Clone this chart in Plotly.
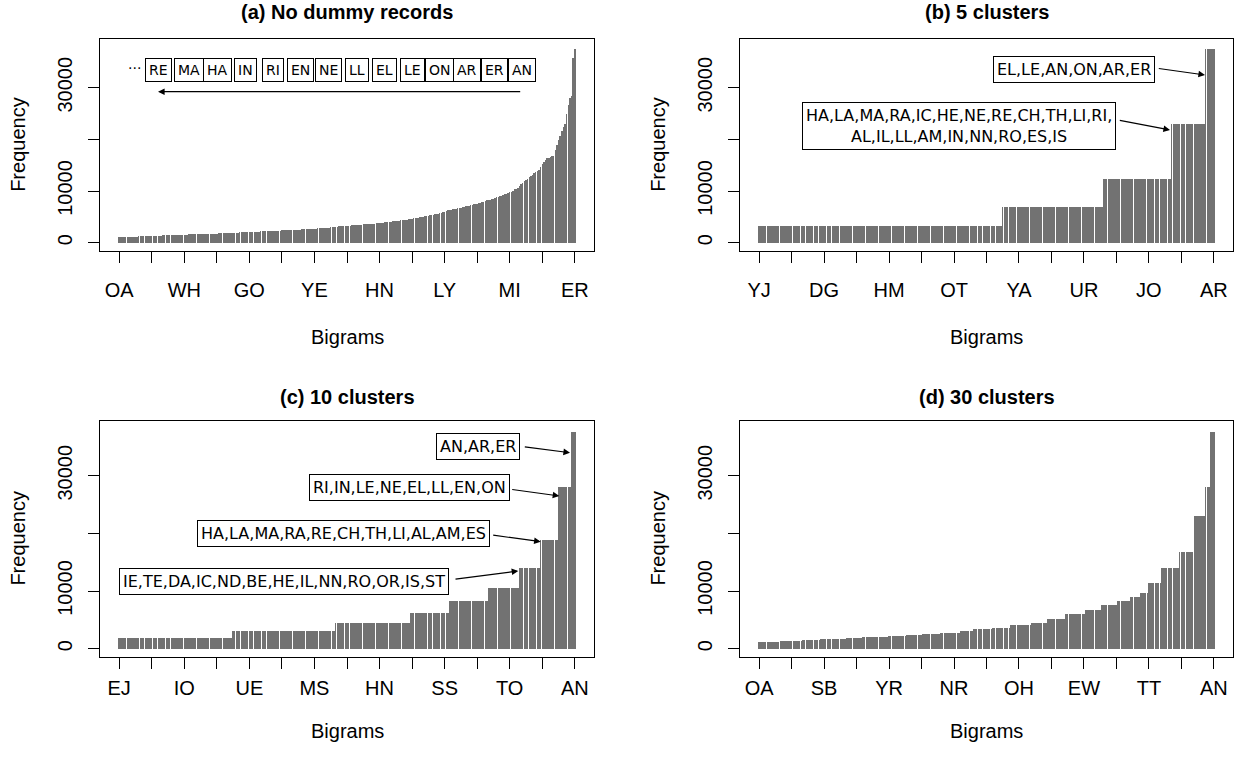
import plotly.graph_objects as go

W, H = 1237, 757

# ---------------- data ----------------
# (a) frequencies of all 281 bigrams, sorted ascending
freq_a = [
    1050, 1062, 1075, 1088, 1100, 1112, 1125, 1138, 1150, 1163, 1175, 1190, 1210,
    1222, 1235, 1248, 1260, 1272, 1285, 1298, 1310, 1322, 1335, 1348, 1360, 1375, 1390,
    1402, 1415, 1428, 1442, 1455, 1468, 1482, 1495, 1510, 1525, 1540,
    1548, 1556, 1565, 1573, 1582, 1590, 1598, 1607, 1615, 1624, 1632, 1640, 1650, 1660, 1670, 1680,
    1693, 1707, 1720, 1735, 1750, 1765, 1780, 1795, 1812, 1830,
    1843, 1856, 1870, 1883, 1896, 1910,
    1925, 1940, 1955, 1970, 1985, 2000,
    2025, 2050, 2075, 2100,
    2108, 2117, 2126, 2135, 2144, 2153, 2162, 2171, 2180, 2190, 2200,
    2215, 2232, 2249, 2266, 2283, 2300, 2318, 2335, 2352, 2370,
    2386, 2402, 2418, 2434, 2450, 2467, 2484, 2500, 2517, 2533, 2550,
    2568, 2586, 2604, 2622, 2640, 2660, 2680, 2700, 2720, 2740, 2760, 2780,
    2795, 2810, 2825, 2840, 2855, 2870, 3000, 3070,
    3085, 3100, 3115, 3140, 3165, 3190, 3215, 3240, 3265, 3290, 3320, 3360,
    3385, 3410, 3435, 3460, 3485, 3510, 3535, 3560, 3580, 3600, 3620,
    3650, 3680, 3710, 3745, 3780, 3815, 3850, 3890, 3930, 3970, 4010, 4045, 4080,
    4115, 4150, 4185, 4220, 4260, 4300, 4340, 4385, 4430, 4480, 4510,
    4570, 4630, 4690, 4750, 4810, 4870, 4930, 4995, 5060, 5120,
    5180, 5240, 5300, 5360, 5420, 5490, 5560, 5640, 5720, 5800, 5890, 5980,
    6100, 6240, 6320, 6400, 6480, 6560, 6620, 6680, 6730, 6770,
    6850, 6930, 7010, 7090, 7170, 7250, 7330, 7410, 7480, 7550,
    7640, 7740, 7840, 7950, 8060, 8270, 8280, 8290,
    8400, 8520, 8640, 8760, 8870, 8980,
    9100, 9230, 9360, 9480, 9600,
    9750, 9900, 10050, 10300, 10450, 10580, 11000, 11320,
    11600, 11900, 12150, 12400, 12650, 12900, 13150, 13400, 13600, 13800, 14000,
    14600, 15200, 15700, 16100, 16300, 16450, 16550, 16700, 16820,
    18000, 18850,
    19800, 20700, 21600, 22300, 22980,
    25000, 26600, 28000,
    28300, 35800, 37500,
]
assert len(freq_a) == 281, len(freq_a)

# (b) 5 clusters: bars per cluster and padded (max) frequency
sizes_b = [150, 62, 42, 21, 6]
vals_b = [3290, 6850, 12270, 22900, 37400]
# (c) 10 clusters
sizes_c = [70, 63, 46, 24, 24, 19, 13, 11, 8, 3]
vals_c = [1910, 3070, 4510, 6240, 8270, 10580, 14050, 18850, 28100, 37500]
# (d) 30 clusters
sizes_d = [13, 14, 11, 16, 10, 12, 4, 11, 10, 11, 12, 8, 12, 11, 13, 10, 11, 12,
           10, 10, 8, 6, 5, 8, 11, 9, 7, 3, 3]
vals_d = [1210, 1390, 1540, 1680, 1830, 2000, 2100, 2200, 2370, 2550, 2780, 3070,
          3360, 3620, 4080, 4480, 5120, 5980, 6770, 7550, 8290, 8980, 9600, 11320,
          13970, 16820, 22980, 28000, 37520]

labels_a = ["OA", "WH", "GO", "YE", "HN", "LY", "MI", "ER"]
labels_b = ["YJ", "DG", "HM", "OT", "YA", "UR", "JO", "AR"]
labels_c = ["EJ", "IO", "UE", "MS", "HN", "SS", "TO", "AN"]
labels_d = ["OA", "SB", "YR", "NR", "OH", "EW", "TT", "AN"]

titles = ["(a) No dummy records", "(b) 5 clusters", "(c) 10 clusters", "(d) 30 clusters"]

top_bigrams_a = ["RE", "MA", "HA", "IN", "RI", "EN", "NE", "LL", "EL", "LE", "ON", "AR", "ER", "AN"]
clusters_b = ["EL,LE,AN,ON,AR,ER",
              "HA,LA,MA,RA,IC,HE,NE,RE,CH,TH,LI,RI,<br>AL,IL,LL,AM,IN,NN,RO,ES,IS"]
clusters_c = ["AN,AR,ER",
              "RI,IN,LE,NE,EL,LL,EN,ON",
              "HA,LA,MA,RA,RE,CH,TH,LI,AL,AM,ES",
              "IE,TE,DA,IC,ND,BE,HE,IL,NN,RO,OR,IS,ST"]


def expand(sizes, vals):
    out = []
    for s, v in zip(sizes, vals):
        out.extend([v] * s)
    return out


freq_b = expand(sizes_b, vals_b)
freq_c = expand(sizes_c, vals_c)
freq_d = expand(sizes_d, vals_d)

series = [freq_a, freq_b, freq_c, freq_d]
tick_labels = [labels_a, labels_b, labels_c, labels_d]

# ---------------- layout ----------------
AX_FONT = dict(family="Liberation Sans, Arial, sans-serif", size=20, color="black")
ANN_FONT = "DejaVu Sans"

xdoms = [[100 / W, 594 / W], [740 / W, 1233 / W], [100 / W, 594 / W], [740 / W, 1233 / W]]
ydoms = [[1 - 250.7 / H, 1 - 39 / H], [1 - 250.7 / H, 1 - 39 / H],
         [1 - 656.5 / H, 1 - 420.7 / H], [1 - 656.5 / H, 1 - 420.7 / H]]
yranges = [[-1548, 39423], [-1548, 39423], [-1353, 39535], [-1353, 39535]]
xstand = [10, 10, 2, 2]

fig = go.Figure()
layout = dict(
    width=W, height=H,
    margin=dict(l=0, r=0, t=0, b=0, autoexpand=False),
    paper_bgcolor="white", plot_bgcolor="white",
    showlegend=False,
    bargap=0,
)

annotations = []


def P(x, y):
    return x / W, 1 - y / H


for i in range(4):
    vals = series[i]
    n = len(vals)
    xs = list(range(1, n + 1))
    sfx = "" if i == 0 else str(i + 1)
    fig.add_trace(go.Bar(
        x=xs, y=vals, width=0.9,
        marker=dict(color="#727272", line=dict(width=0)),
        xaxis="x" + sfx, yaxis="y" + sfx,
        hoverinfo="skip",
    ))
    tickvals = [1 + 20 * k for k in range(15)]
    ticktext = [tick_labels[i][k // 2] if k % 2 == 0 else "" for k in range(15)]
    layout["xaxis" + sfx] = dict(
        domain=xdoms[i], anchor="y" + sfx, range=[-10.8, 292.8],
        tickmode="array", tickvals=tickvals, ticktext=ticktext,
        ticks="outside", ticklen=11, tickwidth=1, tickcolor="black",
        showline=True, linecolor="black", linewidth=1, mirror=True,
        showgrid=False, zeroline=False, tickfont=AX_FONT,
        ticklabelstandoff=xstand[i], automargin=False, fixedrange=True,
    )
    layout["yaxis" + sfx] = dict(
        domain=ydoms[i], anchor="x" + sfx, range=yranges[i],
        tickmode="array", tickvals=[0, 10000, 20000, 30000],
        ticktext=["0", "10000", "", "30000"],
        ticks="outside", ticklen=11, tickwidth=1, tickcolor="black",
        showline=True, linecolor="black", linewidth=1, mirror=True,
        showgrid=False, zeroline=False, tickfont=AX_FONT, tickangle=-90,
        ticklabelstandoff=8, automargin=False, fixedrange=True,
    )
    # titles and axis labels
    cx = (xdoms[i][0] + xdoms[i][1]) / 2 * W
    top_px = (1 - ydoms[i][1]) * H
    bot_px = (1 - ydoms[i][0]) * H
    ty = 12 if i < 2 else 397
    by = 337 if i < 2 else 731
    annotations.append(dict(xref="paper", yref="paper", x=cx / W, y=1 - ty / H,
                            text="<b>%s</b>" % titles[i], showarrow=False,
                            font=dict(family="Liberation Sans, Arial", size=20, color="black"),
                            xanchor="center", yanchor="middle"))
    annotations.append(dict(xref="paper", yref="paper", x=cx / W, y=1 - by / H,
                            text="Bigrams", showarrow=False, font=AX_FONT,
                            xanchor="center", yanchor="middle"))
    fx = 18 if i % 2 == 0 else 658
    annotations.append(dict(xref="paper", yref="paper", x=fx / W, y=1 - (top_px + bot_px) / 2 / H,
                            text="Frequency", showarrow=False, font=AX_FONT, textangle=-90,
                            xanchor="center", yanchor="middle"))


def box(x, y, text, size, pad=3):
    px, py = P(x, y)
    annotations.append(dict(xref="paper", yref="paper", x=px, y=py, text=text,
                            showarrow=False, xanchor="center", yanchor="middle",
                            font=dict(family=ANN_FONT, size=size, color="black"),
                            bordercolor="black", borderwidth=1, borderpad=pad,
                            bgcolor="white"))


def arrow(tx, ty, hx, hy):
    px, py = P(hx, hy)
    annotations.append(dict(xref="paper", yref="paper", x=px, y=py, text="",
                            showarrow=True, ax=tx - hx, ay=ty - hy,
                            arrowhead=2, arrowsize=1.1, arrowwidth=1.2,
                            arrowcolor="black", standoff=0, startstandoff=0))


# (a) top bigrams in boxes
a_centers = [158.3, 188.5, 217, 245.3, 272.5, 300.8, 328.7, 356.5, 384.7, 412,
             439.7, 467.3, 494.7, 521.7]
for cxp, lab in zip(a_centers, top_bigrams_a):
    box(cxp, 70, lab, 14, pad=3)
px, py = P(134, 68)
annotations.append(dict(xref="paper", yref="paper", x=px, y=py, text="···",
                        showarrow=False, font=dict(family=ANN_FONT, size=14, color="black"),
                        xanchor="center", yanchor="middle"))
arrow(521.7, 91.7, 158, 91.7)

# (b)
box(1074.2, 69.5, clusters_b[0], 16)
arrow(1157.3, 68.3, 1205, 75)
box(958.7, 125.7, clusters_b[1], 16)
arrow(1118.3, 120, 1170, 130)

# (c)
box(478.3, 446.2, clusters_c[0], 16)
arrow(523.3, 446.7, 570, 452.7)
box(409.2, 487.8, clusters_c[1], 16)
arrow(510.7, 489.3, 559.3, 496)
box(343.8, 533.8, clusters_c[2], 16)
arrow(491.7, 535, 540.7, 541.7)
box(284.2, 581.2, clusters_c[3], 16)
arrow(454, 579.3, 518.3, 571)

layout["annotations"] = annotations
fig.update_layout(**layout)
fig.write_html("out.html",
               config={"displayModeBar": False, "staticPlot": True},
               post_script="document.body.style.margin='0';document.body.style.overflow='hidden';")
